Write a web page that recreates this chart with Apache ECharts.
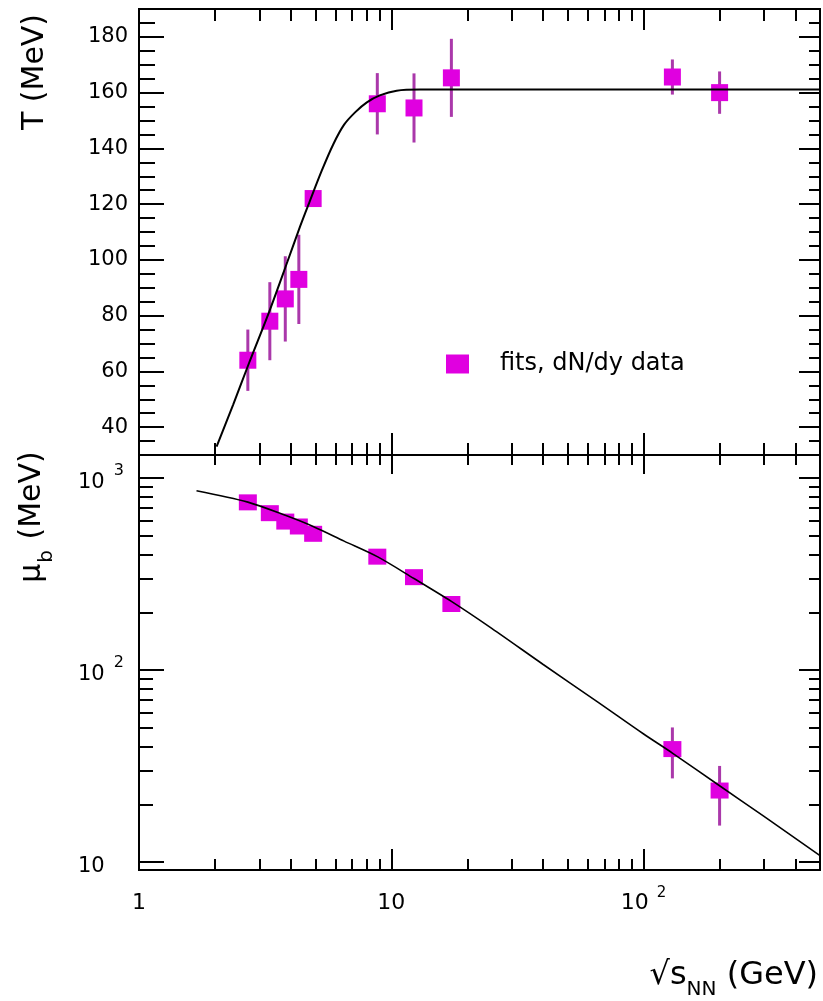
<!DOCTYPE html>
<html>
<head>
<meta charset="utf-8">
<script src="https://cdn.jsdelivr.net/npm/echarts@6/dist/echarts.min.js"></script>
<style>
html,body{margin:0;padding:0;background:#fff;}
#chart{width:823px;height:1001px;}
</style>
</head>
<body>
<div id="chart"></div>
<script>
// ---- data ----
const energies = [2.7, 3.3, 3.8, 4.3, 4.9, 8.8, 12.3, 17.3, 130, 200];
const tempT    = [64, 78, 86, 93, 122, 156, 154.5, 165.3, 165.6, 160];
const tempErr  = [11, 14, 15.3, 16, 3, 11, 12.4, 14, 6.3, 7.6];
const muB      = [748, 657, 594, 560, 513, 390, 305, 221, 38.8, 23.6];
const muErr    = [15, 15, 15, 15, 15, 12, 10, 8, 11.5, 8.1];

const tFitX  = [2.03, 2.36, 2.73, 3.30, 3.88, 4.35, 4.75, 5.30, 5.89, 6.5, 7.2, 8.0, 9.0, 10.5, 13, 500];
const tFitY  = [33, 48, 63, 82, 99.5, 112, 121, 132, 141.5, 148.5, 153, 156.5, 159, 160.7, 161.1, 161.1];
const muFitX = [1.69, 2.7, 3.8, 4.9, 6.5, 8.8, 12.3, 17.3, 25, 40, 65, 100, 130, 200, 300, 500];
const muFitY = [860, 750, 640, 560, 470, 390, 300, 228, 165, 107, 69, 46.5, 37, 25, 17.3, 10.8];

// ---- tick values ----
const xLabelValues = [1, 10, 100];
const xMajorTicks  = [10, 100];
const xMinorTicks  = [2, 3, 4, 5, 6, 7, 8, 9, 20, 30, 40, 50, 60, 70, 80, 90, 200, 300, 400];
const tMajorTicks  = [40, 60, 80, 100, 120, 140, 160, 180];
const tMinorTicks  = [35, 45, 50, 55, 65, 70, 75, 85, 90, 95, 105, 110, 115, 125, 130, 135, 145, 150, 155, 165, 170, 175, 185];
const muMajorTicks = [10, 100, 1000];
const muMinorTicks = [20, 30, 40, 50, 60, 70, 80, 90, 200, 300, 400, 500, 600, 700, 800, 900];

const FONT = 'DejaVu Sans';
const SERIES_NAME = 'fits, dN/dy data';

const chart = echarts.init(document.getElementById('chart'), null, {renderer: 'canvas'});

function xAx(gridIndex, position, ticks, len, labels) {
  const a = {
    type: 'log', logBase: 10, min: 1, max: 500, gridIndex: gridIndex, position: position,
    axisLine: {show: false}, splitLine: {show: false}, minorTick: {show: false},
    axisTick: {show: true, inside: true, length: len, customValues: ticks,
               lineStyle: {color: '#000', width: 2}},
    axisLabel: {show: false}
  };
  if (labels) {
    a.axisLabel = {
      show: true, customValues: xLabelValues, margin: 16,
      fontFamily: FONT, fontSize: 22, color: '#000',
      formatter: function (v) { return v >= 100 ? '{b|10}{s|2}' : '{b|' + Math.round(v) + '}'; },
      rich: {
        b: {fontFamily: FONT, fontSize: 22, color: '#000', verticalAlign: 'bottom', lineHeight: 28},
        s: {fontFamily: FONT, fontSize: 15, color: '#000', verticalAlign: 'top', lineHeight: 28, padding: [0, 0, 14, 8]}
      }
    };
  }
  return a;
}

function yAx(gridIndex, position, type, min, max, ticks, len, labelCfg) {
  const a = {
    type: type, min: min, max: max, gridIndex: gridIndex, position: position,
    axisLine: {show: false}, splitLine: {show: false}, minorTick: {show: false},
    axisTick: {show: true, inside: true, length: len, customValues: ticks,
               lineStyle: {color: '#000', width: 2}},
    axisLabel: {show: false}
  };
  if (type === 'log') a.logBase = 10;
  if (labelCfg) a.axisLabel = labelCfg;
  return a;
}

function errorBarSeries(xi, yi, data) {
  return {
    type: 'custom', xAxisIndex: xi, yAxisIndex: yi, z: 2, silent: true,
    encode: {x: 0, y: 1},
    data: data,
    renderItem: function (params, api) {
      const x = api.value(0), y = api.value(1), e = api.value(2);
      const p1 = api.coord([x, y + e]);
      const p2 = api.coord([x, y - e]);
      return {type: 'line', shape: {x1: p1[0], y1: p1[1], x2: p2[0], y2: p2[1]},
              style: {stroke: '#aa38aa', lineWidth: 3}};
    }
  };
}

const option = {
  backgroundColor: '#fff',
  animation: false,
  textStyle: {fontFamily: FONT},
  grid: [
    {left: 139, top: 9, width: 681, height: 446, show: true, borderColor: '#000', borderWidth: 2, backgroundColor: 'transparent'},
    {left: 139, top: 455, width: 681, height: 415, show: true, borderColor: '#000', borderWidth: 2, backgroundColor: 'transparent'}
  ],
  xAxis: [
    xAx(0, 'bottom', xMajorTicks, 22, false),  // 0
    xAx(0, 'bottom', xMinorTicks, 12, false),  // 1
    xAx(0, 'top', xMajorTicks, 21, false),     // 2
    xAx(0, 'top', xMinorTicks, 12, false),     // 3
    xAx(1, 'bottom', xMajorTicks, 21, true),   // 4
    xAx(1, 'bottom', xMinorTicks, 11, false),  // 5
    xAx(1, 'top', xMajorTicks, 19, false),     // 6
    xAx(1, 'top', xMinorTicks, 10, false)      // 7
  ],
  yAxis: [
    yAx(0, 'left', 'value', 30, 190, tMajorTicks, 25, {
      show: true, customValues: tMajorTicks, margin: 11,
      fontFamily: FONT, fontSize: 21, color: '#000'
    }),                                                   // 0
    yAx(0, 'left', 'value', 30, 190, tMinorTicks, 16),    // 1
    yAx(0, 'right', 'value', 30, 190, tMajorTicks, 21),   // 2
    yAx(0, 'right', 'value', 30, 190, tMinorTicks, 11),   // 3
    yAx(1, 'left', 'log', 9.1, 1320, muMajorTicks, 25, {
      show: true, customValues: muMajorTicks, margin: 61, align: 'left',
      fontFamily: FONT, fontSize: 21, color: '#000',
      formatter: function (v) {
        const p = Math.round(Math.log10(v));
        return p === 1 ? '{b|10}' : '{b|10}{s|' + p + '}';
      },
      rich: {
        b: {fontFamily: FONT, fontSize: 21, color: '#000', verticalAlign: 'bottom', lineHeight: 30},
        s: {fontFamily: FONT, fontSize: 16, color: '#000', verticalAlign: 'top', lineHeight: 30, padding: [0, 0, 16, 9]}
      }
    }),                                                   // 4
    yAx(1, 'left', 'log', 9.1, 1320, muMinorTicks, 14),   // 5
    yAx(1, 'right', 'log', 9.1, 1320, muMajorTicks, 21),  // 6
    yAx(1, 'right', 'log', 9.1, 1320, muMinorTicks, 11)   // 7
  ],
  legend: {
    left: 441, top: 347, orient: 'vertical',
    data: [{name: SERIES_NAME, icon: 'rect'}],
    itemWidth: 23, itemHeight: 19,
    textStyle: {fontFamily: FONT, fontSize: 24, color: '#000', padding: [0, 0, 0, 26]}
  },
  series: [
    errorBarSeries(0, 0, energies.map((e, i) => [e, tempT[i], tempErr[i]])),
    errorBarSeries(4, 4, energies.map((e, i) => [e, muB[i], muErr[i]])),
    {
      name: SERIES_NAME, type: 'scatter', xAxisIndex: 0, yAxisIndex: 0, z: 3,
      symbol: 'rect', symbolSize: [17, 17],
      itemStyle: {color: '#e000e0', opacity: 1},
      data: energies.map((e, i) => [e, tempT[i]])
    },
    {
      name: SERIES_NAME, type: 'scatter', xAxisIndex: 4, yAxisIndex: 4, z: 3,
      symbol: 'rect', symbolSize: [18, 16],
      itemStyle: {color: '#e000e0', opacity: 1},
      data: energies.map((e, i) => [e, muB[i]])
    },
    {
      name: 'T fit', type: 'line', xAxisIndex: 0, yAxisIndex: 0, z: 4,
      showSymbol: false, symbol: 'none', smooth: 0.3, clip: true,
      lineStyle: {color: '#000', width: 2},
      data: tFitX.map((x, i) => [x, tFitY[i]])
    },
    {
      name: 'mu fit', type: 'line', xAxisIndex: 4, yAxisIndex: 4, z: 4,
      showSymbol: false, symbol: 'none', smooth: 0.3, clip: true,
      lineStyle: {color: '#000', width: 1.6},
      data: muFitX.map((x, i) => [x, muFitY[i]])
    }
  ],
  graphic: [
    {
      type: 'text', x: 35, y: 72, rotation: Math.PI / 2,
      style: {text: 'T (MeV)', fontFamily: FONT, fontSize: 30, fill: '#000', align: 'center', verticalAlign: 'middle'}
    },
    {
      type: 'text', x: 37, y: 517, rotation: Math.PI / 2,
      style: {
        text: '{m|μ}{sub|b}{m| (MeV)}', align: 'center', verticalAlign: 'middle',
        rich: {
          m: {fontFamily: FONT, fontSize: 30, fill: '#000', verticalAlign: 'top', lineHeight: 40},
          sub: {fontFamily: FONT, fontSize: 20, fill: '#000', verticalAlign: 'bottom', lineHeight: 40, padding: [0, 1, 0, 1]}
        }
      }
    },
    {
      type: 'text', x: 818, y: 980,
      style: {
        text: '{m|√s}{sub|NN}{m| (GeV)}', align: 'right', verticalAlign: 'middle',
        rich: {
          m: {fontFamily: FONT, fontSize: 32, fill: '#000', verticalAlign: 'top', lineHeight: 40},
          sub: {fontFamily: FONT, fontSize: 20, fill: '#000', verticalAlign: 'bottom', lineHeight: 40}
        }
      }
    }
  ]
};

chart.setOption(option);
</script>
</body>
</html>
